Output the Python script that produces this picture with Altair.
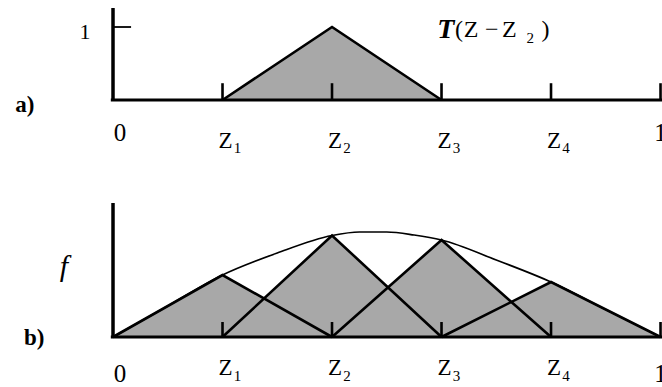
import altair as alt
import pandas as pd

# ---- data -------------------------------------------------------------
# mesh nodes on [0, 1]
node_x = [0.0, 0.2, 0.4, 0.6, 0.8, 1.0]
node_main = ["0", "Z", "Z", "Z", "Z", "1"]
node_sub = ["", "1", "2", "3", "4", ""]

# hat function T(z - z2) in panel a
hat_x = [0.2, 0.4, 0.6]
hat_y = [0.0, 1.0, 0.0]

# nodal values of f used for the interpolating hats in panel b
f_nodes = [0.0, 0.62, 1.015, 0.97, 0.55, 0.0]

# sampled curve f(z)
curve_x = [0.0, 0.1, 0.2, 0.3, 0.4, 0.45, 0.5, 0.55, 0.6, 0.7, 0.8, 0.9, 1.0]
curve_f = [0.0, 0.31, 0.62, 0.84, 1.015, 1.05, 1.05, 1.02, 0.97, 0.77, 0.55, 0.275, 0.0]

# pieces of the label T(z - z2), placed along the top of panel a
title_glyphs = ["(", "Z", "\u2212", "Z", ")"]
title_glyph_x = [0.632, 0.654, 0.692, 0.724, 0.790]

# ---- styling ----------------------------------------------------------
W = 662
HA, HB = 180, 207
SERIF = "Liberation Serif"
GRAY = "#a8a8a8"
XDOM = [-0.2064, 1.0027]
YDOM_A = [-1.0959, 1.3699]
YDOM_B = [-0.50, 1.57]
TICK_A, TICK_B = 0.23, 0.15
AXIS_TOP_A, AXIS_TOP_B = 1.26, 1.34

xs = alt.Scale(domain=XDOM, nice=False, zero=False)


def enc(ydom):
    ys = alt.Scale(domain=ydom, nice=False, zero=False)
    return dict(
        x=alt.X("x:Q", scale=xs, axis=None),
        y=alt.Y("y:Q", scale=ys, axis=None, stack=None),
    )


def text_layer(df, ydom, size, weight="normal", style="normal", align="center", dx=0, dy=0):
    e = enc(ydom)
    return alt.Chart(df).mark_text(
        font=SERIF, fontSize=size, fontWeight=weight, fontStyle=style,
        align=align, baseline="middle", dx=dx, dy=dy, color="black", clip=True
    ).encode(x=e["x"], y=e["y"], text="t:N")


def axes(ydom, tick_len, axis_top):
    e = enc(ydom)
    v = pd.DataFrame({"x": [0.0], "y": [0.0], "y2": [axis_top]})
    vaxis = alt.Chart(v).mark_rule(strokeWidth=3.5, color="black", clip=True).encode(
        x=e["x"], y=e["y"], y2="y2:Q")
    h = pd.DataFrame({"x": [-0.004], "x2": [XDOM[1]], "y": [0.0]})
    haxis = alt.Chart(h).mark_rule(strokeWidth=3.2, color="black", clip=True).encode(
        x=e["x"], x2="x2:Q", y=e["y"])
    t = pd.DataFrame({"x": node_x[1:], "y": [0.0] * 5, "y2": [tick_len] * 5})
    ticks = alt.Chart(t).mark_rule(strokeWidth=2.6, color="black", clip=True).encode(
        x=e["x"], y=e["y"], y2="y2:Q")
    return [vaxis, haxis, ticks]


def node_labels(ydom, y_main, y_zero, sub_dy):
    zero = pd.DataFrame({"x": [node_x[0]], "y": [y_zero], "t": [node_main[0]]})
    one = pd.DataFrame({"x": [node_x[-1]], "y": [y_zero], "t": [node_main[-1]]})
    zs = pd.DataFrame({"x": node_x[1:-1], "y": [y_main] * 4, "t": node_main[1:-1]})
    subs = pd.DataFrame({"x": node_x[1:-1], "y": [y_main] * 4, "t": node_sub[1:-1]})
    return [
        text_layer(zero, ydom, 25, dx=7),
        text_layer(one, ydom, 25, dx=0),
        text_layer(zs, ydom, 23, dx=3),
        text_layer(subs, ydom, 15, dx=15, dy=sub_dy),
    ]


# ---- panel a: single hat function --------------------------------------
ea = enc(YDOM_A)
hat = pd.DataFrame({"x": hat_x, "y": hat_y, "o": [0, 1, 2]})
hat_fill = alt.Chart(hat).mark_area(color=GRAY, opacity=1, clip=True).encode(x=ea["x"], y=ea["y"])
hat_edge = alt.Chart(hat).mark_line(color="black", strokeWidth=2.6, clip=True).encode(
    x=ea["x"], y=ea["y"], order="o:Q")

ytick = pd.DataFrame({"x": [0.0], "x2": [0.033], "y": [1.0]})
ytick_a = alt.Chart(ytick).mark_rule(color="black", strokeWidth=1.8, clip=True).encode(
    x=ea["x"], x2="x2:Q", y=ea["y"])

title_parts = [
    text_layer(pd.DataFrame({"x": [0.608], "y": [0.959], "t": ["T"]}), YDOM_A, 28,
               weight="bold", style="italic"),
    text_layer(pd.DataFrame({"x": title_glyph_x, "y": [0.959] * 5, "t": title_glyphs}), YDOM_A, 24),
    text_layer(pd.DataFrame({"x": [0.762], "y": [0.85], "t": ["2"]}), YDOM_A, 15),
]

a_labels = [
    text_layer(pd.DataFrame({"x": [-0.161], "y": [-0.07], "t": ["a)"]}), YDOM_A, 23, weight="bold"),
    text_layer(pd.DataFrame({"x": [-0.051], "y": [0.93], "t": ["1"]}), YDOM_A, 22),
]

panel_a = alt.layer(
    hat_fill, hat_edge, *axes(YDOM_A, TICK_A, AXIS_TOP_A), ytick_a,
    *node_labels(YDOM_A, -0.562, -0.45, 7), *title_parts, *a_labels
).properties(width=W, height=HA)

# ---- panel b: f and its piecewise-linear interpolation ---------------------
eb = enc(YDOM_B)
rows = []
for i in range(1, 5):
    for k, (xx, yy) in enumerate([(node_x[i - 1], 0.0), (node_x[i], f_nodes[i]), (node_x[i + 1], 0.0)]):
        rows.append({"x": xx, "y": yy, "hat": i, "o": k})
hats = pd.DataFrame(rows)
hats_fill = alt.Chart(hats).mark_area(color=GRAY, opacity=1, clip=True).encode(
    x=eb["x"], y=eb["y"], detail="hat:N")
hats_edge = alt.Chart(hats).mark_line(color="black", strokeWidth=2.6, clip=True).encode(
    x=eb["x"], y=eb["y"], detail="hat:N", order="o:Q")

curve = pd.DataFrame({"x": curve_x, "y": curve_f})
curve_line = alt.Chart(curve).mark_line(
    color="black", strokeWidth=1.7, interpolate="monotone", clip=True
).encode(x=eb["x"], y=eb["y"])

b_labels = [
    text_layer(pd.DataFrame({"x": [-0.144], "y": [-0.01], "t": ["b)"]}), YDOM_B, 23, weight="bold"),
    text_layer(pd.DataFrame({"x": [-0.0895], "y": [0.70], "t": ["f"]}), YDOM_B, 30, style="italic"),
]

panel_b = alt.layer(
    hats_fill, curve_line, hats_edge, *axes(YDOM_B, TICK_B, AXIS_TOP_B),
    *node_labels(YDOM_B, -0.31, -0.37, 8), *b_labels
).properties(width=W, height=HB)

chart = alt.vconcat(panel_a, panel_b, spacing=0).properties(
    padding=0, background="white"
).configure_view(stroke=None)

chart.save("out.html", embed_options={"renderer": "svg", "actions": False})
